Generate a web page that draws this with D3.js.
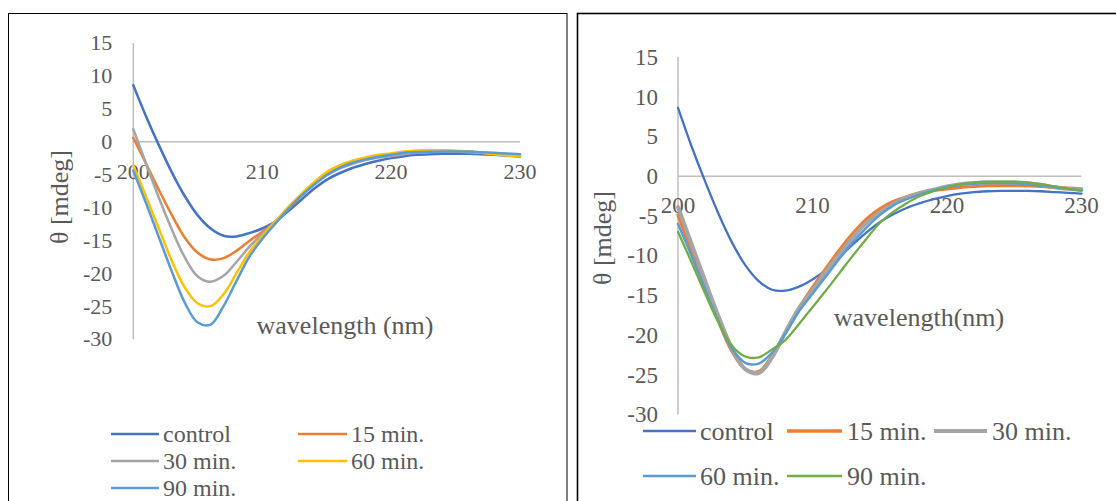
<!DOCTYPE html>
<html>
<head>
<meta charset="utf-8">
<script src="https://cdn.jsdelivr.net/npm/d3@7/dist/d3.min.js"></script>
<style>
  html, body { margin: 0; padding: 0; background: #fff; }
  svg { display: block; }
  text { font-family: "Liberation Serif", "Times New Roman", serif; fill: #595959; }
</style>
</head>
<body>
<svg id="chart" width="1116" height="501"></svg>
<script>
// ---------- DATA ----------
const wavelengths = [200,201,202,203,204,205,206,207,208,209,210,211,212,213,214,215,216,217,218,219,220,221,222,223,224,225,226,227,228,229,230];
const xTicks = [200, 210, 220, 230];
const yTicks = [15, 10, 5, 0, -5, -10, -15, -20, -25, -30];

// Left panel series
const leftControl = [8.6,3.8,-0.6,-4.7,-8.3,-11.2,-13.2,-14.3,-14.4,-13.9,-13.2,-12.2,-10.6,-8.9,-7.2,-5.8,-4.8,-4.0,-3.4,-2.9,-2.5,-2.2,-2.0,-1.9,-1.85,-1.85,-1.85,-1.9,-2.0,-2.1,-2.2];
const left15 = [0.6,-3.4,-7.4,-11.2,-14.6,-16.9,-17.9,-17.7,-16.6,-15.1,-13.7,-12.2,-10.3,-8.3,-6.5,-5.0,-3.9,-3.1,-2.6,-2.2,-1.9,-1.6,-1.4,-1.35,-1.35,-1.4,-1.5,-1.7,-1.9,-2.1,-2.3];
const left30 = [1.9,-3.4,-8.6,-13.4,-17.6,-20.5,-21.3,-20.4,-18.3,-16.0,-14.0,-12.2,-10.2,-8.2,-6.5,-5.1,-4.1,-3.4,-2.8,-2.4,-2.2,-1.9,-1.7,-1.6,-1.55,-1.55,-1.6,-1.7,-1.8,-1.95,-2.0];
const left60 = [-3.6,-8.4,-13.3,-18.2,-22.2,-24.6,-25.0,-23.2,-20.0,-16.8,-14.4,-12.2,-10.0,-8.0,-6.2,-4.6,-3.6,-2.9,-2.4,-2.0,-1.8,-1.5,-1.35,-1.3,-1.3,-1.4,-1.5,-1.7,-1.9,-2.1,-2.2];
const left90 = [-4.4,-9.4,-14.6,-19.8,-24.5,-27.5,-27.8,-25.0,-21.2,-17.5,-14.8,-12.5,-10.3,-8.3,-6.6,-5.1,-4.0,-3.2,-2.7,-2.3,-2.0,-1.7,-1.6,-1.55,-1.5,-1.5,-1.5,-1.6,-1.7,-1.8,-1.9];

// Right panel series
const rightControl = [8.6,3.8,-0.6,-4.7,-8.3,-11.2,-13.2,-14.3,-14.4,-13.9,-13.0,-11.8,-10.2,-8.6,-7.1,-5.8,-4.8,-4.0,-3.4,-2.9,-2.5,-2.2,-2.0,-1.9,-1.85,-1.85,-1.85,-1.9,-2.0,-2.1,-2.2];
const right15 = [-4.9,-9.3,-13.8,-18.2,-22.0,-24.3,-24.6,-22.6,-19.6,-16.6,-14.0,-11.6,-9.3,-7.2,-5.4,-4.1,-3.2,-2.6,-2.1,-1.8,-1.6,-1.4,-1.3,-1.2,-1.2,-1.2,-1.2,-1.3,-1.4,-1.5,-1.6];
const right30 = [-3.9,-8.5,-13.1,-17.6,-21.6,-24.3,-24.8,-22.8,-19.6,-16.6,-14.4,-12.0,-9.8,-7.7,-5.9,-4.6,-3.5,-2.7,-2.1,-1.7,-1.3,-1.0,-0.85,-0.8,-0.8,-0.8,-0.9,-1.1,-1.4,-1.6,-1.7];
const right60 = [-6.0,-10.0,-14.2,-18.3,-21.7,-23.5,-23.6,-22.2,-19.8,-17.0,-14.8,-12.6,-10.4,-8.3,-6.5,-4.9,-3.7,-2.9,-2.3,-1.8,-1.4,-1.1,-0.95,-0.85,-0.85,-0.9,-1.0,-1.2,-1.4,-1.6,-1.8];
const right90 = [-7.0,-10.8,-14.7,-18.4,-21.3,-22.7,-22.8,-21.8,-20.6,-18.6,-16.5,-14.4,-12.2,-10.0,-7.9,-5.9,-4.5,-3.4,-2.5,-1.9,-1.4,-1.0,-0.8,-0.7,-0.7,-0.7,-0.8,-1.0,-1.3,-1.6,-1.8];

const leftNames = ["control", "15 min.", "30 min.", "60 min.", "90 min."];
const rightNames = ["control", "15 min.", "30 min.", "60 min.", "90 min."];
const leftColors = ["#4472C4", "#ED7D31", "#A5A5A5", "#FFC000", "#5B9BD5"];
const rightColors = ["#4472C4", "#ED7D31", "#A5A5A5", "#5B9BD5", "#70AD47"];

// ---------- DRAW ----------
const svg = d3.select("#chart");

// panel frames
svg.append("rect").attr("x", 8.5).attr("y", 13.5).attr("width", 558.5).attr("height", 500)
  .attr("fill", "none").attr("stroke", "#000").attr("stroke-width", 1);
svg.append("rect").attr("x", 577.5).attr("y", 13.5).attr("width", 560).attr("height", 500)
  .attr("fill", "none").attr("stroke", "#000").attr("stroke-width", 1.6);

function drawPanel(cfg) {
  const g = svg.append("g");
  const x = d3.scaleLinear().domain([200, 230]).range(cfg.xRange);
  const y = d3.scaleLinear().domain([-30, 15]).range(cfg.yRange);

  // y axis line
  g.append("line").attr("x1", x(200)).attr("x2", x(200)).attr("y1", y(15)).attr("y2", y(-30))
    .attr("stroke", "#BFBFBF").attr("stroke-width", 1.5);
  // x axis line (zero)
  g.append("line").attr("x1", x(200)).attr("x2", x(230)).attr("y1", y(0)).attr("y2", y(0))
    .attr("stroke", "#BFBFBF").attr("stroke-width", 1.5);

  // y tick labels
  g.selectAll(".yt").data(yTicks).enter().append("text")
    .attr("x", x(200) - cfg.yLabelGap).attr("y", d => y(d)).attr("dy", "0.34em")
    .attr("text-anchor", "end").style("font-size", cfg.tickFont + "px").text(d => d);
  // x tick labels (below zero line)
  g.selectAll(".xt").data(xTicks).enter().append("text")
    .attr("x", d => x(d)).attr("y", y(0) + cfg.xLabelOffset)
    .attr("text-anchor", "middle").style("font-size", cfg.tickFont + "px").text(d => d);

  // series
  const line = d3.line().x((d, i) => x(wavelengths[i])).y(d => y(d)).curve(d3.curveCatmullRom.alpha(0.5));
  cfg.series.forEach((s, i) => {
    g.append("path").datum(s).attr("d", line).attr("fill", "none")
      .attr("stroke", cfg.colors[i]).attr("stroke-width", cfg.widths[i])
      .attr("stroke-linejoin", "round").attr("stroke-linecap", "round");
  });

  // axis titles
  g.append("text").attr("x", cfg.xTitle[0]).attr("y", cfg.xTitle[1]).attr("dy", "0.34em")
    .attr("text-anchor", "middle").style("font-size", "26px").text(cfg.xTitleText);
  g.append("text").attr("transform", `translate(${cfg.yTitle[0]},${cfg.yTitle[1]}) rotate(-90)`)
    .attr("text-anchor", "middle").style("font-size", "26px").text("θ [mdeg]");

  // legend
  cfg.legend.forEach((p, i) => {
    g.append("line").attr("x1", p[0]).attr("x2", p[1]).attr("y1", p[3]).attr("y2", p[3])
      .attr("stroke", cfg.colors[i]).attr("stroke-width", cfg.legendWidths[i]);
    g.append("text").attr("x", p[2]).attr("y", p[3]).attr("dy", "0.34em")
      .style("font-size", cfg.legendFont + "px").text(cfg.names[i]);
  });
}

drawPanel({
  xRange: [133.3, 520], yRange: [339, 43],
  yLabelGap: 21, xLabelOffset: 37, tickFont: 22,
  series: [leftControl, left15, left30, left60, left90],
  colors: leftColors, names: leftNames,
  widths: [2.5, 2.5, 2.5, 2.5, 2.5],
  legendWidths: [2.5, 2.5, 2.5, 2.5, 2.5],
  legendFont: 24,
  xTitle: [345, 325], xTitleText: "wavelength (nm)",
  yTitle: [68, 197],
  legend: [[111, 159, 163, 434], [298, 347, 351, 434], [111, 159, 163, 461], [298, 347, 351, 461], [111, 159, 163, 488]]
});

drawPanel({
  xRange: [678, 1081.5], yRange: [414.5, 57],
  yLabelGap: 20, xLabelOffset: 37, tickFont: 23,
  series: [rightControl, right15, right30, right60, right90],
  colors: rightColors, names: rightNames,
  widths: [2.3, 3.2, 4, 2.5, 2.3],
  legendWidths: [2.3, 3.4, 4, 2.5, 2.5],
  legendFont: 26,
  xTitle: [919, 317], xTitleText: "wavelength(nm)",
  yTitle: [611, 238],
  legend: [[643, 696, 700, 431], [787, 842, 847, 431], [934, 987, 992, 431], [643, 696, 700, 476], [787, 842, 847, 476]]
});
</script>
</body>
</html>
